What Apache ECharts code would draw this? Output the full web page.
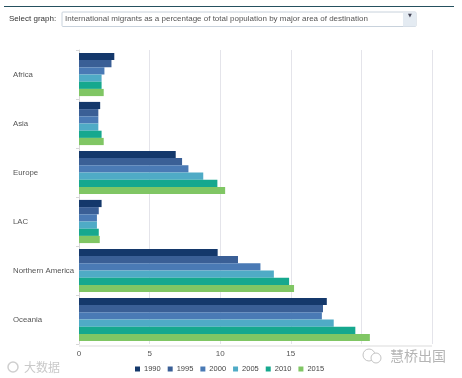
<!DOCTYPE html>
<html><head><meta charset="utf-8">
<script src="https://cdn.jsdelivr.net/npm/echarts@6/dist/echarts.min.js"></script>
<style>html,body{margin:0;padding:0;background:#fff}#c{width:462px;height:378px}</style></head>
<body><div id="c"></div>
<script>
const categories = ['Africa','Asia','Europe','LAC','Northern America','Oceania'];
const years = ['1990','1995','2000','2005','2010','2015'];
const colors = ['#14386b','#3a5f96','#4a7ab5','#4fabc6','#16a88e','#80c664'];
const v1990 = [2.5,1.5,6.85,1.6,9.82,17.55];
const v1995 = [2.3,1.37,7.3,1.4,11.26,17.28];
const v2000 = [1.8,1.37,7.75,1.27,12.85,17.2];
const v2005 = [1.6,1.37,8.8,1.27,13.8,18.04];
const v2010 = [1.6,1.6,9.8,1.4,14.88,19.57];
const v2015 = [1.75,1.75,10.35,1.47,15.23,20.6];
const seriesValues = [v1990,v1995,v2000,v2005,v2010,v2015];
const selectLabel = 'Select graph:';
const selectText = 'International migrants as a percentage of total population by major area of destination';
const font = 'Arial, "Liberation Sans", sans-serif';
const chart = echarts.init(document.getElementById('c'), null, {renderer:'canvas'});
chart.setOption({
  animation:false,
  backgroundColor:'#fff',
  textStyle:{fontFamily:font},
  grid:{left:79,right:30,top:50,bottom:34,containLabel:false},
  legend:{
    data:years,bottom:0,left:130,itemWidth:5,itemHeight:5,itemGap:7,icon:'rect',
    textStyle:{color:'#444',fontSize:7.5,padding:[0,0,0,-1]}
  },
  xAxis:{type:'value',min:0,max:25,interval:5,
    axisLine:{show:false},axisTick:{show:false},
    splitLine:{show:true,lineStyle:{color:'#e4e4ea',width:1}},
    axisLabel:{color:'#555',fontSize:8,margin:6,
      formatter:v=>v<=15?String(v):''}},
  yAxis:{type:'category',inverse:true,data:categories,
    axisLine:{show:true,lineStyle:{color:'#d8d8d8'}},
    axisTick:{show:true,length:3,lineStyle:{color:'#d8d8d8'}},
    axisLabel:{color:'#555',fontSize:7.8,align:'left',margin:66}},
  series:seriesValues.map((d,i)=>({
    name:years[i],type:'bar',data:d,barWidth:7.2,barGap:'0%',
    itemStyle:{color:colors[i]}
  })),
  graphic:[
    {type:'rect',shape:{x:4,y:6,width:450,height:1},style:{fill:'#25505f'}},
    {type:'text',style:{x:9,y:14.5,text:selectLabel,fill:'#333',fontSize:8,fontFamily:font}},
    {type:'rect',shape:{x:62,y:12,width:354,height:14.5,r:1},style:{fill:'#fff',stroke:'#c8d2dc',lineWidth:1}},
    {type:'rect',shape:{x:403,y:12.5,width:13,height:14},style:{fill:'#e4ebf2'}},
    {type:'text',style:{x:408,y:13.5,text:'▼',fill:'#445',fontSize:5,fontFamily:'DejaVu Sans'}},
    {type:'text',style:{x:65,y:15,text:selectText,fill:'#555',fontSize:8,fontFamily:font}},
    {type:'rect',shape:{x:79,y:345.5,width:353,height:1},style:{fill:'#dcdcdc'}},
    {type:'circle',shape:{cx:13,cy:367,r:5},style:{fill:'none',stroke:'#cfcfcf',lineWidth:1.5}},
    {type:'text',style:{x:24,y:361,text:'大数据',fill:'#c9c9c9',fontSize:12,fontFamily:'"Noto Sans CJK SC"'}},
    {type:'circle',shape:{cx:369,cy:355,r:6},style:{fill:'none',stroke:'#c4c4c4',lineWidth:1}},
    {type:'circle',shape:{cx:376,cy:358,r:5},style:{fill:'#fff',stroke:'#c4c4c4',lineWidth:1}},
    {type:'text',style:{x:390,y:349,text:'慧桥出国',fill:'#b5b5b5',fontSize:14,fontFamily:'"Noto Sans CJK SC"'}}
  ]
});
</script></body></html>
